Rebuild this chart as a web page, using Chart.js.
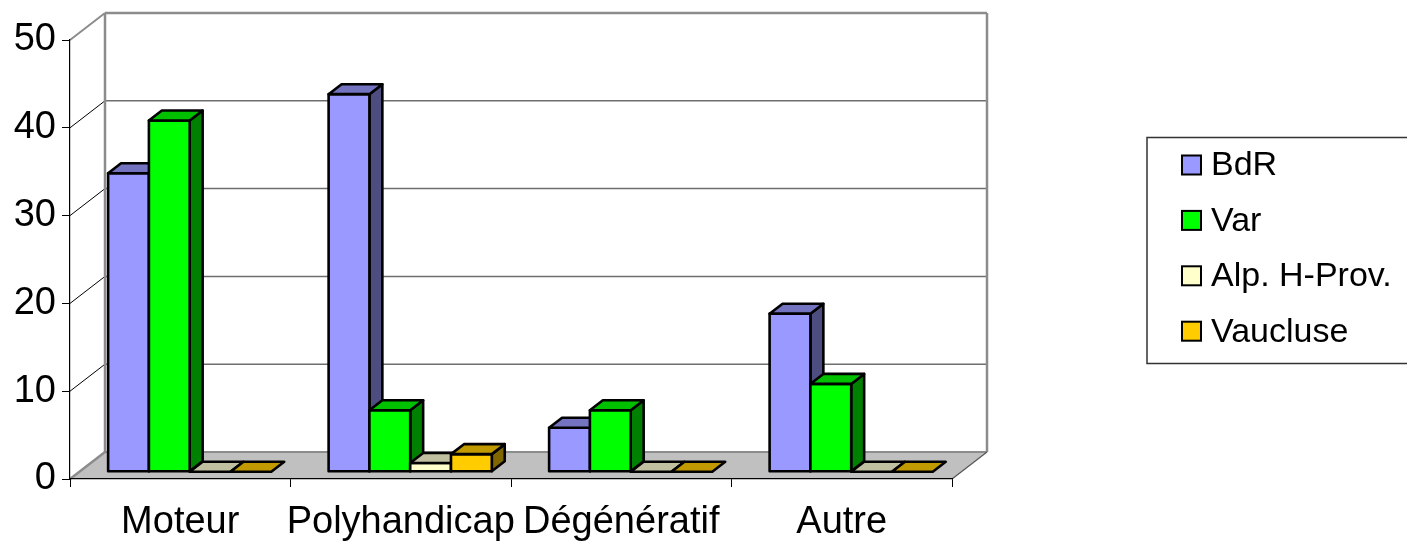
<!DOCTYPE html>
<html>
<head>
<meta charset="utf-8">
<script src="https://cdn.jsdelivr.net/npm/chart.js@4.4.0/dist/chart.umd.min.js"></script>
<style>
  html, body { margin: 0; padding: 0; background: #fff; }
</style>
</head>
<body>
<canvas id="chart" width="1407" height="541"></canvas>
<script>
const categories = ['Moteur', 'Polyhandicap', 'Dégénératif', 'Autre'];
const seriesNames = ['BdR', 'Var', 'Alp. H-Prov.', 'Vaucluse'];
const bdr = [34, 43, 5, 18];
const varDept = [40, 7, 7, 10];
const alpHProv = [0, 1, 0, 0];
const vaucluse = [0, 2, 0, 0];
const yTicks = [0, 10, 20, 30, 40, 50];

// front / top / side shading for each series
const palette = [
  { front: '#9999ff', top: '#7373c0', side: '#4d4d80' },
  { front: '#00ff00', top: '#00c000', side: '#008000' },
  { front: '#ffffcc', top: '#c0c0a0', side: '#808066' },
  { front: '#ffcc00', top: '#c09a00', side: '#806600' }
];

// oblique projection: full depth shift of the walls, and where the bars sit in it
const depth = { dx: 35, dy: 27, near: 0.27, far: 0.64 };
const proj = (x, y, d) => [x + d * depth.dx, y - d * depth.dy];
const FONT = "'Liberation Sans', Arial, sans-serif";

function poly(ctx, pts, fill) {
  ctx.beginPath();
  ctx.moveTo(pts[0][0], pts[0][1]);
  for (let i = 1; i < pts.length; i++) ctx.lineTo(pts[i][0], pts[i][1]);
  ctx.closePath();
  ctx.fillStyle = fill;
  ctx.fill();
  ctx.stroke();
}

function line(ctx, x1, y1, x2, y2, color, w) {
  ctx.beginPath();
  ctx.moveTo(x1, y1);
  ctx.lineTo(x2, y2);
  ctx.strokeStyle = color;
  ctx.lineWidth = w;
  ctx.stroke();
}

const box3d = {
  id: 'box3d',
  beforeDraw(chart) {
    const { ctx, chartArea: a, scales: { y } } = chart;
    const bx = depth.dx, by = depth.dy;
    const y0 = y.getPixelForValue(0);
    const yTop = y.getPixelForValue(y.max);
    ctx.save();
    // floor
    ctx.fillStyle = '#c0c0c0';
    ctx.beginPath();
    ctx.moveTo(a.left, y0);
    ctx.lineTo(a.right, y0);
    ctx.lineTo(a.right + bx, y0 - by);
    ctx.lineTo(a.left + bx, y0 - by);
    ctx.closePath();
    ctx.fill();

    // gridlines on the back wall, joined to the axis across the side wall
    y.ticks.forEach(t => {
      if (t.value === 0 || t.value === y.max) return;
      const py = y.getPixelForValue(t.value);
      line(ctx, a.left + bx, py - by, a.right + bx, py - by, '#6e6e6e', 1.5);
      line(ctx, a.left, py, a.left + bx, py - by, '#000', 1);
    });

    // wall edges
    const edge = '#8c8c8c';
    line(ctx, a.left + bx, yTop - by, a.right + bx, yTop - by, edge, 2.5);
    line(ctx, a.left, yTop, a.left + bx, yTop - by, edge, 2);
    line(ctx, a.left + bx, yTop - by, a.left + bx, y0 - by, edge, 2.5);
    line(ctx, a.right + bx, yTop - by, a.right + bx, y0 - by, edge, 2.5);
    line(ctx, a.left + bx, y0 - by, a.right + bx, y0 - by, edge, 2);
    line(ctx, a.left, y0, a.left + bx, y0 - by, edge, 2.5);
    line(ctx, a.right, y0, a.right + bx, y0 - by, '#555', 1.2);
    ctx.restore();
  },
  beforeDatasetsDraw(chart) {
    const { ctx } = chart;
    ctx.save();
    ctx.lineWidth = 2.6;
    ctx.strokeStyle = '#000';
    ctx.lineJoin = 'round';
    for (let i = 0; i < chart.data.labels.length; i++) {
      chart.data.datasets.forEach((ds, k) => {
        const el = chart.getDatasetMeta(k).data[i];
        const { x, y, base, width } = el.getProps(['x', 'y', 'base', 'width'], true);
        const l = x - width / 2, r = x + width / 2;
        const c = palette[k];
        const n = depth.near, f = depth.far;
        if (base - y > 0.5) {
          poly(ctx, [proj(r, y, n), proj(r, base, n), proj(r, base, f), proj(r, y, f)], c.side);
          poly(ctx, [proj(l, y, n), proj(r, y, n), proj(r, base, n), proj(l, base, n)], c.front);
        }
        poly(ctx, [proj(l, y, n), proj(r, y, n), proj(r, y, f), proj(l, y, f)], c.top);
      });
    }
    ctx.restore();
    return false;
  },
  afterDraw(chart) {
    const { ctx } = chart;
    const box = { x: 1147, y: 137.5, w: 300, h: 226 };
    ctx.save();
    ctx.strokeStyle = '#333';
    ctx.lineWidth = 1.5;
    ctx.strokeRect(box.x, box.y, box.w, box.h);
    ctx.font = '34px ' + FONT;
    ctx.textBaseline = 'middle';
    chart.data.datasets.forEach((ds, k) => {
      const cy = 165 + k * 55.4;
      ctx.fillStyle = palette[k].front;
      ctx.fillRect(1182, cy - 9.5, 19, 19);
      ctx.strokeStyle = '#000';
      ctx.lineWidth = 2;
      ctx.strokeRect(1182, cy - 9.5, 19, 19);
      ctx.fillStyle = '#000';
      ctx.fillText(ds.label, 1211, cy + 1);
    });
    ctx.restore();
  }
};

const seriesValues = [bdr, varDept, alpHProv, vaucluse];

new Chart(document.getElementById('chart'), {
  type: 'bar',
  data: {
    labels: categories,
    datasets: seriesNames.map((name, k) => ({
      label: name,
      data: seriesValues[k],
      backgroundColor: palette[k].front
    }))
  },
  options: {
    responsive: false,
    animation: false,
    devicePixelRatio: 1,
    layout: { padding: { top: 40, right: 455, bottom: 0, left: 0 } },
    datasets: { bar: { categoryPercentage: 0.74, barPercentage: 1 } },
    plugins: { legend: { display: false }, tooltip: { enabled: false } },
    scales: {
      x: {
        offset: true,
        grid: { offset: true, drawOnChartArea: false, drawTicks: true, tickLength: 8, color: '#000' },
        border: { display: true, color: '#000', width: 1.2 },
        ticks: { font: { family: FONT, size: 38 }, color: '#000', padding: 13, maxRotation: 0, minRotation: 0, autoSkip: false },
        afterFit(s) { s.height = 62; }
      },
      y: {
        min: 0,
        max: 50,
        afterBuildTicks(s) { s.ticks = yTicks.map(v => ({ value: v })); },
        grid: { drawOnChartArea: false, drawTicks: true, tickLength: 8, color: '#000' },
        border: { display: true, color: '#000', width: 1.2 },
        ticks: { font: { family: FONT, size: 38 }, color: '#000', padding: 6 },
        afterFit(s) { s.width = 70; }
      }
    }
  },
  plugins: [box3d]
});
</script>
</body>
</html>
